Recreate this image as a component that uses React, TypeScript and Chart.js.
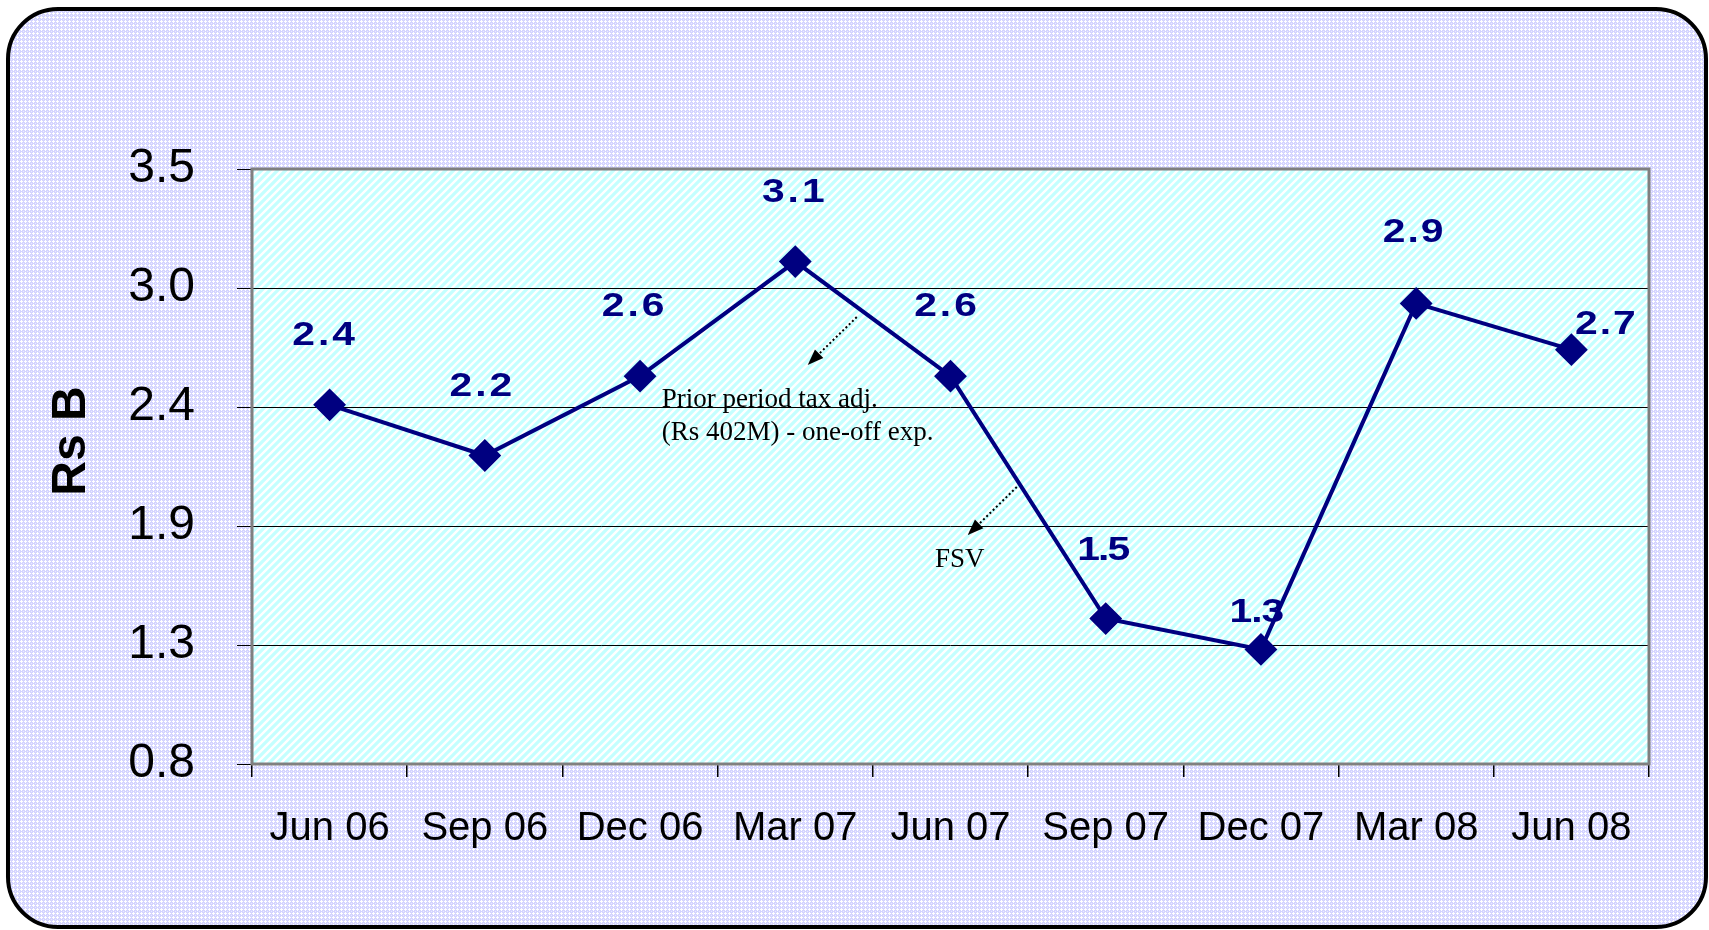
import React, { useEffect, useRef } from "react";
import { Chart, registerables } from "chart.js";

Chart.register(...registerables);

// ---- data ----
const categories = ["Jun 06", "Sep 06", "Dec 06", "Mar 07", "Jun 07", "Sep 07", "Dec 07", "Mar 08", "Jun 08"];
const profitValues = [2.43, 2.2, 2.56, 3.08, 2.56, 1.46, 1.32, 2.89, 2.68];
const dataLabels = ["2.4", "2.2", "2.6", "3.1", "2.6", "1.5", "1.3", "2.9", "2.7"];
const yTickValues = [0.8, 1.34, 1.88, 2.42, 2.96, 3.5];
const yTickLabels = ["0.8", "1.3", "1.9", "2.4", "3.0", "3.5"];
const yAxisTitle = "Rs B";
const noteTaxLines = ["Prior period tax adj.", "(Rs 402M) - one-off exp."];
const noteFsv = "FSV";

// ---- styles ----
const SANS = "Arial, 'Liberation Sans', sans-serif";
const SERIF = "'Times New Roman', 'Liberation Serif', serif";
const NAVY = "#000080";
const LABEL_STRETCH = 1.2;
// per-label offset from its point [dx, dy, letterSpacing]
const labelStyle: [number, number, number][] = [
  [-6, -69, 3], [-4, -69, 3], [-7, -70, 3], [-2, -69, 3], [-5, -70, 3],
  [-2, -68, -2], [-4, -37, -1], [-3, -71, 2], [34, -25, 2],
];

function lavenderPattern(ctx: CanvasRenderingContext2D) {
  const c = document.createElement("canvas");
  c.width = 4; c.height = 4;
  const g = c.getContext("2d")!;
  g.fillStyle = "#d4d4ff";
  g.fillRect(0, 0, 4, 4);
  g.fillStyle = "#ffffff";
  g.fillRect(1, 0, 1, 1);
  g.fillRect(0, 1, 3, 1);
  g.fillRect(1, 2, 1, 1);
  g.fillStyle = "#eaeaff";
  g.fillRect(3, 3, 1, 1);
  return ctx.createPattern(c, "repeat")!;
}

function stripePattern(ctx: CanvasRenderingContext2D) {
  const N = 8;
  const c = document.createElement("canvas");
  c.width = N; c.height = N;
  const g = c.getContext("2d")!;
  g.fillStyle = "#ffffff";
  g.fillRect(0, 0, N, N);
  g.strokeStyle = "#c4ffff";
  g.lineWidth = 3.2;
  g.beginPath();
  g.moveTo(-2, 2); g.lineTo(2, -2);
  g.moveTo(0, N); g.lineTo(N, 0);
  g.moveTo(N - 2, N + 2); g.lineTo(N + 2, N - 2);
  g.stroke();
  return ctx.createPattern(c, "repeat")!;
}

function arrow(ctx: CanvasRenderingContext2D, x1: number, y1: number, x2: number, y2: number) {
  const ang = Math.atan2(y2 - y1, x2 - x1);
  const head = 16;
  const bx = x2 - Math.cos(ang) * head;
  const by = y2 - Math.sin(ang) * head;
  ctx.save();
  ctx.strokeStyle = "#000";
  ctx.lineWidth = 2;
  ctx.setLineDash([2, 2.5]);
  ctx.beginPath();
  ctx.moveTo(x1, y1);
  ctx.lineTo(bx, by);
  ctx.stroke();
  ctx.setLineDash([]);
  ctx.fillStyle = "#000";
  ctx.beginPath();
  ctx.moveTo(x2, y2);
  ctx.lineTo(bx + Math.cos(ang + Math.PI / 2) * 6, by + Math.sin(ang + Math.PI / 2) * 6);
  ctx.lineTo(bx + Math.cos(ang - Math.PI / 2) * 6, by + Math.sin(ang - Math.PI / 2) * 6);
  ctx.closePath();
  ctx.fill();
  ctx.restore();
}

// draw text centered at (cx, cy), horizontally stretched, with manual letter spacing
function spacedText(ctx: CanvasRenderingContext2D, text: string, cx: number, cy: number, sp: number, sx: number) {
  const chars = Array.from(text);
  const widths = chars.map((ch) => ctx.measureText(ch).width * sx);
  const total = widths.reduce((a, b) => a + b, 0) + sp * (chars.length - 1);
  let x = cx - total / 2;
  ctx.textAlign = "left";
  chars.forEach((ch, i) => {
    ctx.save();
    ctx.translate(x, cy);
    ctx.scale(sx, 1);
    ctx.fillText(ch, 0, 0);
    ctx.restore();
    x += widths[i] + sp;
  });
}

const decorPlugin = {
  id: "decor",
  beforeDraw(chart: any) {
    const ctx: CanvasRenderingContext2D = chart.ctx;
    const { width, height } = chart;
    ctx.save();
    ctx.fillStyle = "#ffffff";
    ctx.fillRect(0, 0, width, height);
    ctx.beginPath();
    (ctx as any).roundRect(8, 9, 1698, 918, 50);
    ctx.fillStyle = lavenderPattern(ctx);
    ctx.fill();
    ctx.lineWidth = 4;
    ctx.strokeStyle = "#000";
    ctx.stroke();
    const a = chart.chartArea;
    ctx.fillStyle = stripePattern(ctx);
    ctx.fillRect(a.left, a.top, a.right - a.left, a.bottom - a.top);
    // y axis title
    ctx.translate(72, 441);
    ctx.rotate(-Math.PI / 2);
    ctx.fillStyle = "#000";
    ctx.font = `bold 48px ${SANS}`;
    ctx.textAlign = "center";
    ctx.textBaseline = "middle";
    ctx.fillText(yAxisTitle, 0, 0);
    ctx.restore();
  },
  beforeDatasetsDraw(chart: any) {
    const ctx: CanvasRenderingContext2D = chart.ctx;
    const a = chart.chartArea;
    const xs = chart.scales.x;
    const ys = chart.scales.y;
    ctx.save();
    ctx.strokeStyle = "#808080";
    ctx.lineWidth = 3;
    ctx.strokeRect(a.left, a.top, a.right - a.left, a.bottom - a.top);
    // annotations
    ctx.fillStyle = "#000";
    ctx.font = `27px ${SERIF}`;
    ctx.textAlign = "left";
    ctx.textBaseline = "middle";
    ctx.fillText(noteTaxLines[0], xs.getPixelForValue(2.14), ys.getPixelForValue(2.452));
    ctx.fillText(noteTaxLines[1], xs.getPixelForValue(2.14), ys.getPixelForValue(2.302));
    ctx.textAlign = "center";
    ctx.fillText(noteFsv, xs.getPixelForValue(4.06), ys.getPixelForValue(1.726));
    arrow(ctx, xs.getPixelForValue(3.396), ys.getPixelForValue(2.828), xs.getPixelForValue(3.08), ys.getPixelForValue(2.611));
    arrow(ctx, xs.getPixelForValue(4.427), ys.getPixelForValue(2.057), xs.getPixelForValue(4.111), ys.getPixelForValue(1.839));
    ctx.restore();
  },
  afterDatasetsDraw(chart: any) {
    const ctx: CanvasRenderingContext2D = chart.ctx;
    const meta = chart.getDatasetMeta(0);
    ctx.save();
    ctx.fillStyle = NAVY;
    ctx.font = `bold 34px ${SANS}`;
    ctx.textBaseline = "middle";
    meta.data.forEach((pt: any, i: number) => {
      const [dx, dy, sp] = labelStyle[i];
      spacedText(ctx, dataLabels[i], pt.x + dx, pt.y + dy, sp, LABEL_STRETCH);
    });
    ctx.restore();
  },
};

export default function App() {
  const ref = useRef<HTMLCanvasElement>(null);
  useEffect(() => {
    const chart = new Chart(ref.current!, {
      type: "line",
      data: {
        labels: categories,
        datasets: [
          {
            data: profitValues,
            borderColor: NAVY,
            borderWidth: 4,
            backgroundColor: NAVY,
            pointStyle: "rectRot",
            pointRadius: 15,
            pointBackgroundColor: NAVY,
            pointBorderColor: NAVY,
            pointBorderWidth: 2,
            tension: 0,
            fill: false,
          },
        ],
      },
      options: {
        responsive: false,
        animation: false,
        devicePixelRatio: 1,
        layout: { padding: { left: 0, top: 169, right: 60, bottom: 0 } },
        plugins: { legend: { display: false }, tooltip: { enabled: false }, title: { display: false } },
        scales: {
          x: {
            type: "category",
            offset: true,
            grid: { offset: true, drawOnChartArea: false, drawTicks: true, tickLength: 13, color: "#000", lineWidth: 1.5 },
            border: { display: false },
            ticks: { font: { family: SANS, size: 40 }, color: "#000", padding: 28, maxRotation: 0, autoSkip: false },
            afterFit: (s: any) => { s.height = 166; },
          },
          y: {
            type: "linear",
            min: 0.8,
            max: 3.5,
            afterBuildTicks: (s: any) => { s.ticks = yTickValues.map((v) => ({ value: v })); },
            grid: { color: "#000", lineWidth: 1, tickLength: 15, drawTicks: true },
            border: { display: false },
            ticks: {
              font: { family: SANS, size: 48 },
              color: "#000",
              padding: 42,
              callback: (_v: any, i: number) => yTickLabels[i],
            },
            afterFit: (s: any) => { s.width = 252; },
          },
        },
      },
      plugins: [decorPlugin],
    } as any);
    return () => chart.destroy();
  }, []);
  return (
    <div style={{ position: "fixed", left: 0, top: 0, width: 1709, height: 930 }}>
      <canvas ref={ref} width={1709} height={930} style={{ display: "block", width: 1709, height: 930 }} />
    </div>
  );
}
